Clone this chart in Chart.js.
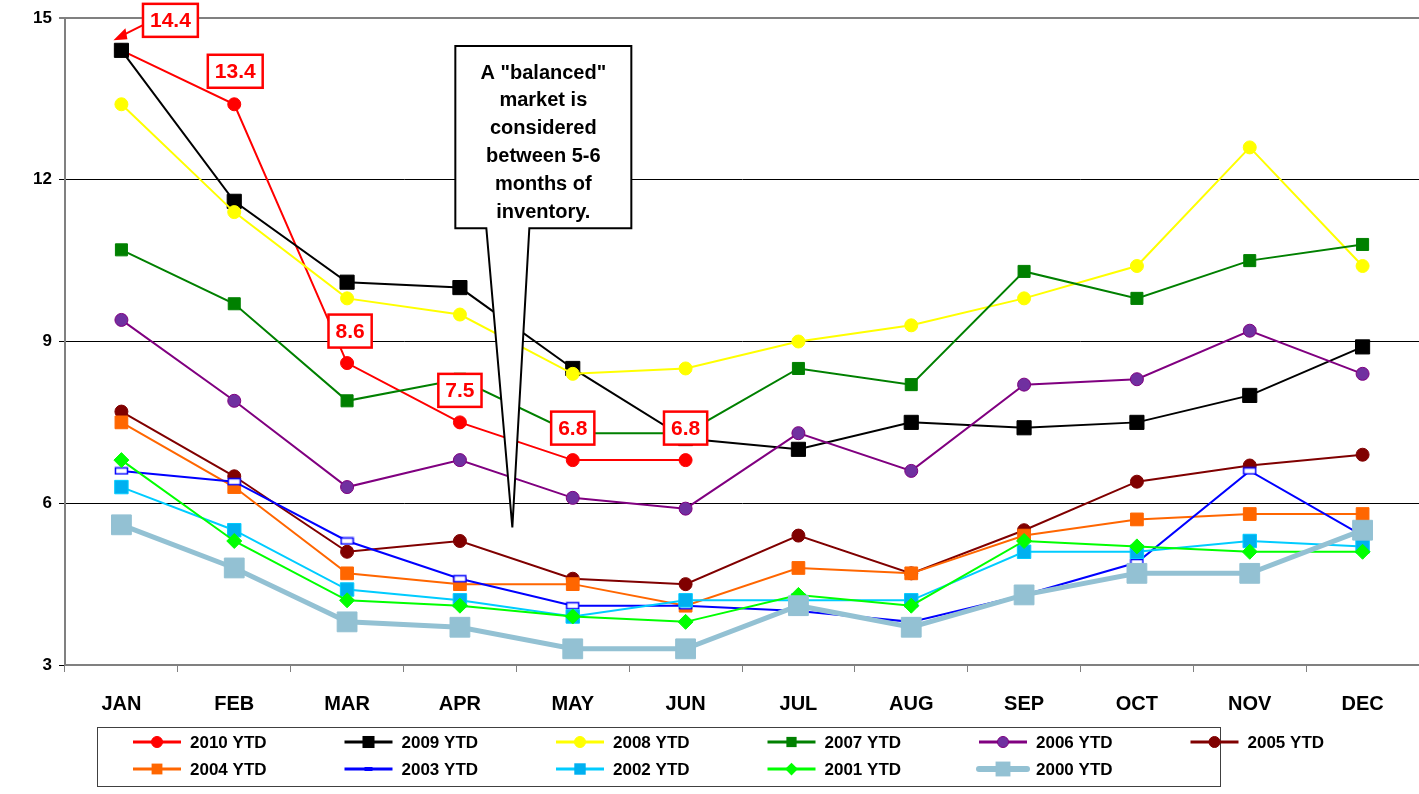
<!DOCTYPE html>
<html>
<head>
<meta charset="utf-8">
<script src="https://cdn.jsdelivr.net/npm/chart.js@4.4.1/dist/chart.umd.min.js"></script>
<style>
html, body { margin: 0; padding: 0; background: #fff; overflow: hidden; }
#wrap { width: 1419px; height: 794px; }
canvas { display: block; }
</style>
</head>
<body>
<div id="wrap"><canvas id="myChart" width="1419" height="794"></canvas></div>
<script>
var months = ['JAN', 'FEB', 'MAR', 'APR', 'MAY', 'JUN', 'JUL', 'AUG', 'SEP', 'OCT', 'NOV', 'DEC'];
var yTicks = [3, 6, 9, 12, 15];

var s2010 = [14.4, 13.4, 8.6, 7.5, 6.8, 6.8, null, null, null, null, null, null];
var s2009 = [14.4, 11.6, 10.1, 10.0, 8.5, 7.2, 7.0, 7.5, 7.4, 7.5, 8.0, 8.9];
var s2008 = [13.4, 11.4, 9.8, 9.5, 8.4, 8.5, 9.0, 9.3, 9.8, 10.4, 12.6, 10.4];
var s2007 = [10.7, 9.7, 7.9, 8.3, 7.3, 7.3, 8.5, 8.2, 10.3, 9.8, 10.5, 10.8];
var s2006 = [9.4, 7.9, 6.3, 6.8, 6.1, 5.9, 7.3, 6.6, 8.2, 8.3, 9.2, 8.4];
var s2005 = [7.7, 6.5, 5.1, 5.3, 4.6, 4.5, 5.4, 4.7, 5.5, 6.4, 6.7, 6.9];
var s2004 = [7.5, 6.3, 4.7, 4.5, 4.5, 4.1, 4.8, 4.7, 5.4, 5.7, 5.8, 5.8];
var s2003 = [6.6, 6.4, 5.3, 4.6, 4.1, 4.1, 4.0, 3.8, 4.3, 4.9, 6.6, 5.4];
var s2002 = [6.3, 5.5, 4.4, 4.2, 3.9, 4.2, 4.2, 4.2, 5.1, 5.1, 5.3, 5.2];
var s2001 = [6.8, 5.3, 4.2, 4.1, 3.9, 3.8, 4.3, 4.1, 5.3, 5.2, 5.1, 5.1];
var s2000 = [5.6, 4.8, 3.8, 3.7, 3.3, 3.3, 4.1, 3.7, 4.3, 4.7, 4.7, 5.5];

var calloutText = ['A "balanced"', 'market is', 'considered', 'between 5-6', 'months of', 'inventory.'];

var FONT = 'Arial, "Liberation Sans", sans-serif';

// small hollow rectangle used by 2003
var rect2003 = document.createElement('canvas');
rect2003.width = 15;
rect2003.height = 9;
(function () {
    var c = rect2003.getContext('2d');
    c.fillStyle = '#fff';
    c.fillRect(1, 1, 13, 7);
    c.strokeStyle = '#0000FF';
    c.lineWidth = 1.5;
    c.strokeRect(1.5, 1.5, 12, 6);
})();

var series = [
    { label: '2010 YTD', data: s2010, color: '#FF0000', fill: '#FF0000', style: 'circle', r: 6.5, lw: 2 },
    { label: '2009 YTD', data: s2009, color: '#000000', fill: '#000000', style: 'rect', r: 10, lw: 2 },
    { label: '2008 YTD', data: s2008, color: '#FFFF00', fill: '#FFFF00', style: 'circle', r: 6.5, lw: 2 },
    { label: '2007 YTD', data: s2007, color: '#008000', fill: '#008000', style: 'rect', r: 8.5, lw: 2 },
    { label: '2006 YTD', data: s2006, color: '#800080', fill: '#7030A0', style: 'circle', r: 6.5, lw: 2 },
    { label: '2005 YTD', data: s2005, color: '#800000', fill: '#800000', style: 'circle', r: 6.5, lw: 2 },
    { label: '2004 YTD', data: s2004, color: '#FF6600', fill: '#FF6600', style: 'rect', r: 9, lw: 2 },
    { label: '2003 YTD', data: s2003, color: '#0000FF', fill: '#FFFFFF', style: rect2003, r: 5, lw: 2 },
    { label: '2002 YTD', data: s2002, color: '#00CCFF', fill: '#00B0F0', style: 'rect', r: 9.5, lw: 2 },
    { label: '2001 YTD', data: s2001, color: '#00FF00', fill: '#00FF00', style: 'rectRot', r: 7.5, lw: 2 },
    { label: '2000 YTD', data: s2000, color: '#93C1D3', fill: '#93C1D3', style: 'rect', r: 14, lw: 5 }
];

var datasets = series.map(function (s, i) {
    return {
        label: s.label,
        data: s.data,
        borderColor: s.color,
        backgroundColor: s.fill,
        borderWidth: s.lw,
        pointStyle: s.style,
        pointRadius: s.r,
        pointBackgroundColor: s.fill,
        pointBorderColor: s.color,
        pointBorderWidth: 1,
        tension: 0,
        spanGaps: false,
        order: series.length - 1 - i
    };
});

function drawMarker(ctx, s, x, y, scale) {
    var r = s.r * scale;
    ctx.save();
    ctx.fillStyle = s.fill;
    ctx.strokeStyle = s.color;
    ctx.lineWidth = 1;
    if (s.style === 'circle') {
        ctx.beginPath();
        ctx.arc(x, y, r, 0, Math.PI * 2);
        ctx.fill();
        ctx.stroke();
    } else if (s.style === 'rect') {
        var h = r * Math.SQRT1_2;
        ctx.fillRect(x - h, y - h, 2 * h, 2 * h);
    } else if (s.style === 'rectRot') {
        ctx.beginPath();
        ctx.moveTo(x, y - r);
        ctx.lineTo(x + r, y);
        ctx.lineTo(x, y + r);
        ctx.lineTo(x - r, y);
        ctx.closePath();
        ctx.fill();
    } else {
        ctx.fillStyle = s.color;
        ctx.fillRect(x - 4, y - 2, 8, 4);
    }
    ctx.restore();
}

var boxLegend = {
    id: 'boxLegend',
    afterDraw: function (chart) {
        var ctx = chart.ctx;
        var left = 97, top = 727, w = 1123, h = 59;
        ctx.save();
        ctx.strokeStyle = '#404040';
        ctx.lineWidth = 1;
        ctx.strokeRect(left + 0.5, top + 0.5, w, h);
        ctx.font = 'bold 17px ' + FONT;
        ctx.textBaseline = 'middle';
        ctx.fillStyle = '#000';
        series.forEach(function (s, i) {
            var col = i % 6, row = Math.floor(i / 6);
            var x0 = 133 + col * 211.5;
            var y0 = 742 + row * 27;
            ctx.strokeStyle = s.color;
            ctx.lineWidth = s.lw === 5 ? 6 : 3;
            ctx.lineCap = s.lw === 5 ? 'round' : 'butt';
            ctx.beginPath();
            ctx.moveTo(x0, y0);
            ctx.lineTo(x0 + 48, y0);
            ctx.stroke();
            drawMarker(ctx, s, x0 + 24, y0, s.lw === 5 ? 0.75 : 0.85);
            ctx.fillStyle = '#000';
            ctx.fillText(s.label, x0 + 57, y0 + 1);
        });
        ctx.restore();
    }
};

function redBox(ctx, text, cx, cy) {
    ctx.font = 'bold 21px ' + FONT;
    var tw = ctx.measureText(text).width;
    var w = tw + 14, h = 33;
    ctx.fillStyle = '#fff';
    ctx.fillRect(cx - w / 2, cy - h / 2, w, h);
    ctx.strokeStyle = '#FF0000';
    ctx.lineWidth = 2.5;
    ctx.strokeRect(cx - w / 2, cy - h / 2, w, h);
    ctx.fillStyle = '#FF0000';
    ctx.textAlign = 'center';
    ctx.textBaseline = 'middle';
    ctx.fillText(text, cx, cy + 1);
}

var callouts = {
    id: 'callouts',
    afterDatasetsDraw: function (chart) {
        var ctx = chart.ctx;
        var pts = chart.getDatasetMeta(0).data;
        var xs = chart.scales.x, ys = chart.scales.y;
        ctx.save();

        // arrow to JAN 14.4
        var p0 = pts[0];
        ctx.strokeStyle = '#FF0000';
        ctx.fillStyle = '#FF0000';
        ctx.lineWidth = 2;
        ctx.beginPath();
        ctx.moveTo(p0.x + 21, p0.y - 25);
        ctx.lineTo(p0.x - 1, p0.y - 14);
        ctx.stroke();
        ctx.beginPath();
        ctx.moveTo(p0.x - 8, p0.y - 10);
        ctx.lineTo(p0.x + 4, p0.y - 22);
        ctx.lineTo(p0.x + 6, p0.y - 11);
        ctx.closePath();
        ctx.fill();

        var offs = [[49, -30], [1, -33], [3, -32], [0, -32], [0, -32], [0, -32]];
        for (var i = 0; i < offs.length; i++) {
            var p = pts[i];
            redBox(ctx, s2010[i].toFixed(1), p.x + offs[i][0], p.y + offs[i][1]);
        }

        // "balanced market" callout
        var tipX = (xs.getPixelForValue(3) + xs.getPixelForValue(4)) / 2 - 4;
        var tipY = ys.getPixelForValue(5.55);
        var bl = tipX - 57, br = tipX + 119, bt = ys.getPixelForValue(14.48), bb = ys.getPixelForValue(11.1);
        ctx.fillStyle = '#fff';
        ctx.strokeStyle = '#000';
        ctx.lineWidth = 2;
        ctx.beginPath();
        ctx.moveTo(bl, bt);
        ctx.lineTo(br, bt);
        ctx.lineTo(br, bb);
        ctx.lineTo(tipX + 17, bb);
        ctx.lineTo(tipX, tipY);
        ctx.lineTo(tipX - 26, bb);
        ctx.lineTo(bl, bb);
        ctx.closePath();
        ctx.fill();
        ctx.stroke();
        ctx.fillStyle = '#000';
        ctx.font = 'bold 20px ' + FONT;
        ctx.textAlign = 'center';
        ctx.textBaseline = 'middle';
        calloutText.forEach(function (t, k) {
            ctx.fillText(t, (bl + br) / 2, bt + 27 + k * 27.8);
        });
        ctx.restore();
    }
};

var ctx = document.getElementById('myChart');
var myChart = new Chart(ctx, {
    type: 'line',
    data: { labels: months, datasets: datasets },
    options: {
        responsive: false,
        animation: false,
        devicePixelRatio: 1,
        layout: { autoPadding: false, padding: { top: 18, right: 0, left: 0, bottom: 0 } },
        plugins: {
            legend: { display: false },
            tooltip: { enabled: false }
        },
        scales: {
            x: {
                offset: true,
                grid: { offset: true, drawOnChartArea: false, drawTicks: true, tickLength: 7, color: '#808080' },
                border: { color: '#808080', width: 2 },
                ticks: { color: '#000', padding: 0, font: { family: FONT, size: 20, weight: 'bold', lineHeight: 3.2 } },
                afterFit: function (s) { s.height = 129; s.paddingLeft = 0; s.paddingRight = 0; }
            },
            y: {
                min: 3,
                max: 15,
                afterBuildTicks: function (s) { s.ticks = yTicks.map(function (v) { return { value: v }; }); },
                grid: {
                    tickLength: 6,
                    color: function (c) { return c.tick && c.tick.value === 15 ? '#808080' : '#000'; },
                    lineWidth: function (c) { return c.tick && c.tick.value === 15 ? 2 : 1; }
                },
                border: { color: '#808080', width: 2 },
                ticks: { color: '#000', padding: 7, font: { family: FONT, size: 17, weight: 'bold' } },
                afterFit: function (s) { s.width = 65; }
            }
        }
    },
    plugins: [callouts, boxLegend]
});
</script>
</body>
</html>
